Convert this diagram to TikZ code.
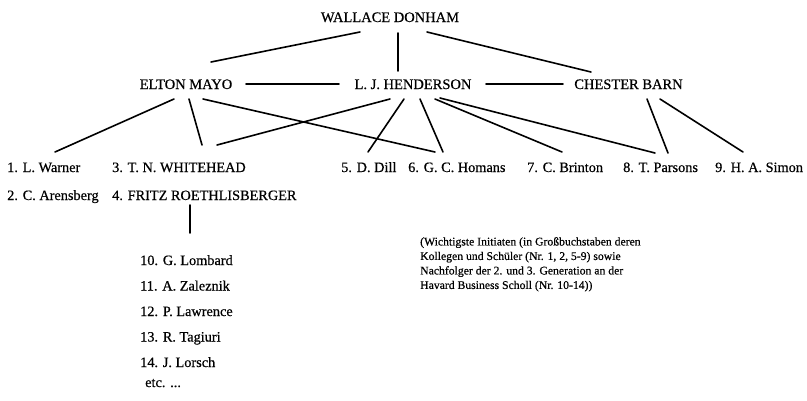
\documentclass[tikz,border=0pt]{standalone}
\usepackage{fontspec}
\setmainfont{Liberation Serif}[FakeBold=0.5]
\usetikzlibrary{calc}
\tikzset{
  lbl/.style={inner sep=0pt, font=\fontsize{14.3}{16}\selectfont},
  top/.style={inner sep=0pt, font=\fontsize{14.5}{16}\selectfont},
  note/.style={inner sep=0pt, align=left, font=\fontsize{11.7}{14.5}\selectfont},
  conn/.style={line width=1.6pt, line cap=round}
}
\begin{document}
\begin{tikzpicture}[x=1pt,y=-1pt]
\fill[white] (0,0) rectangle (807,400);
\useasboundingbox (0,0) rectangle (807,400);
% nodes
\node[top,anchor=base] (donham) at (390,22) {WALLACE DONHAM};
\node[top,anchor=base] (mayo) at (186,89) {ELTON MAYO};
\node[top,anchor=base] (henderson) at (413,89) {L. J. HENDERSON};
\node[top,anchor=base] (barn) at (628.5,89) {CHESTER BARN};
\node[lbl,anchor=base west] (warner) at (7,172) {1. L. Warner};
\node[lbl,anchor=base west] (arensberg) at (7,200) {2. C. Arensberg};
\node[lbl,anchor=base west] (whitehead) at (112,172) {3. T. N. WHITEHEAD};
\node[lbl,anchor=base west] (fritz) at (112,200) {4. FRITZ ROETHLISBERGER};
\node[lbl,anchor=base west] (dill) at (341,172) {5. D. Dill};
\node[lbl,anchor=base west] (homans) at (408,172) {6. G. C. Homans};
\node[lbl,anchor=base west] (brinton) at (527,172) {7. C. Brinton};
\node[lbl,anchor=base west] (parsons) at (623,172) {8. T. Parsons};
\node[lbl,anchor=base west] (simon) at (715,172) {9. H. A. Simon};
\node[lbl,anchor=base west] (lombard) at (140,265) {10. G. Lombard};
\node[lbl,anchor=base west] (zaleznik) at (140,290.5) {11. A. Zaleznik};
\node[lbl,anchor=base west] (lawrence) at (140,316) {12. P. Lawrence};
\node[lbl,anchor=base west] (tagiuri) at (140,341.5) {13. R. Tagiuri};
\node[lbl,anchor=base west] (lorsch) at (140,367) {14. J. Lorsch};
\node[lbl,anchor=base west] (etc) at (145,387) {etc. ...};
\node[note,anchor=north west] (legend) at (420,237) {(Wichtigste Initiaten (in Großbuchstaben deren\\Kollegen und Schüler (Nr. 1, 2, 5-9) sowie\\Nachfolger der 2. und 3. Generation an der\\Havard Business Scholl (Nr. 10-14))};
% connectors
\draw[conn] ($(donham.base)+(-30,10)$) -- ($(mayo.base)+(25,-27)$);
\draw[conn] ($(donham.base)+(8,11)$) -- ($(henderson.base)+(-15,-18)$);
\draw[conn] ($(donham.base)+(37,10)$) -- ($(barn.base)+(-37.5,-17)$);
\draw[conn] ($(mayo.base)+(60,-5)$) -- ($(henderson.base)+(-74,-5)$);
\draw[conn] ($(henderson.base)+(73,-5)$) -- ($(barn.base)+(-65.5,-5)$);
\draw[conn] ($(mayo.base)+(-12,10)$) -- ($(warner.base west)+(48,-20)$);
\draw[conn] ($(mayo.base)+(3,10)$) -- ($(whitehead.base west)+(90,-27)$);
\draw[conn] ($(mayo.base)+(17,10)$) -- ($(homans.base west)+(27,-20)$);
\draw[conn] ($(henderson.base)+(-23,10)$) -- ($(whitehead.base west)+(105,-27)$);
\draw[conn] ($(henderson.base)+(-9,10)$) -- ($(dill.base west)+(27,-20)$);
\draw[conn] ($(henderson.base)+(7,10)$) -- ($(homans.base west)+(35,-20)$);
\draw[conn] ($(henderson.base)+(22,10)$) -- ($(brinton.base west)+(35,-20)$);
\draw[conn] ($(henderson.base)+(27,9)$) -- ($(parsons.base west)+(32,-19)$);
\draw[conn] ($(barn.base)+(18.5,10)$) -- ($(parsons.base west)+(45,-19)$);
\draw[conn] ($(barn.base)+(31.5,10)$) -- ($(simon.base west)+(28,-20)$);
\draw[conn] ($(fritz.base west)+(78,5)$) -- ($(lombard.base west)+(50,-32)$);
\end{tikzpicture}
\end{document}
